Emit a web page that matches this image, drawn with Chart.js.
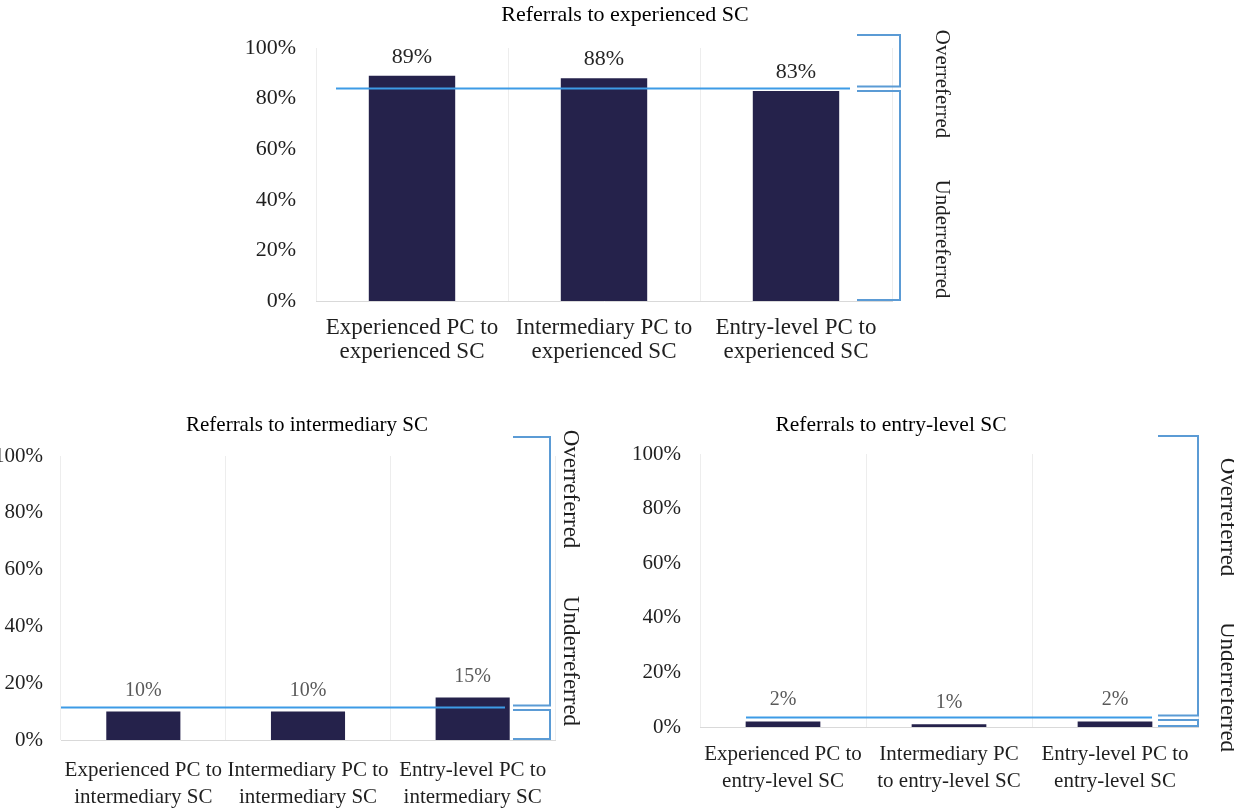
<!DOCTYPE html>
<html>
<head>
<meta charset="utf-8">
<title>Referrals by PC and SC experience level</title>
<script src="https://cdn.jsdelivr.net/npm/chart.js@4.4.1/dist/chart.umd.min.js"></script>
<style>
  html, body { margin: 0; padding: 0; background: #ffffff; }
  #page { position: relative; width: 1234px; height: 809px; overflow: hidden; background: #ffffff; }
  canvas { position: absolute; display: block; }
</style>
</head>
<body>
<div id="page">
  <canvas id="chartExperienced" width="740" height="370" style="left:230px;top:0px"></canvas>
  <canvas id="chartIntermediary" width="600" height="409" style="left:0px;top:400px"></canvas>
  <canvas id="chartEntry" width="634" height="409" style="left:600px;top:400px"></canvas>
</div>
<script>
// ---- data ----
const percentTicks = [0, 20, 40, 60, 80, 100];

const experiencedLabels = [
  ['Experienced PC to', 'experienced SC'],
  ['Intermediary PC to', 'experienced SC'],
  ['Entry-level PC to', 'experienced SC']
];
const experiencedValues = [89, 88, 83];
const experiencedExpected = 84;

const intermediaryLabels = [
  ['Experienced PC to', 'intermediary SC'],
  ['Intermediary PC to', 'intermediary SC'],
  ['Entry-level PC to', 'intermediary SC']
];
const intermediaryValues = [10, 10, 15];
const intermediaryExpected = 11.6;

const entryLabels = [
  ['Experienced PC to', 'entry-level SC'],
  ['Intermediary PC', 'to entry-level SC'],
  ['Entry-level PC to', 'entry-level SC']
];
const entryValues = [2, 1, 2];
const entryExpected = 3.6;

const panelTitles = ['Referrals to experienced SC', 'Referrals to intermediary SC', 'Referrals to entry-level SC'];
const sideLabels = ['Overreferred', 'Underreferred'];

// ---- styling ----
const SERIF = '"Liberation Serif", "Times New Roman", Times, serif';
const BAR_COLOR = '#25224b';
const LINE_BLUE = '#3d9be6';
const BRACKET_BLUE = '#5b9bd5';
const TEXT_DARK = '#1f1f1f';

// Value labels, expected-share line, over/under brackets and the panel title
function referralMarks(o) {
  return {
    id: 'referralMarks',
    afterDatasetsDraw(chart) {
      const ctx = chart.ctx;
      const area = chart.chartArea;
      const yScale = chart.scales.y;
      const meta = chart.getDatasetMeta(0);
      const values = chart.data.datasets[0].data;
      ctx.save();

      // value labels above the bars
      ctx.font = o.valueSize + 'px ' + SERIF;
      ctx.fillStyle = o.valueColor;
      ctx.textAlign = 'center';
      ctx.textBaseline = 'middle';
      meta.data.forEach((bar, i) => {
        ctx.fillText(values[i] + '%', bar.x, bar.y - o.valueGap);
      });

      // expected-share reference line
      const ey = Math.round(yScale.getPixelForValue(o.expected)) + 0.5;
      ctx.strokeStyle = LINE_BLUE;
      ctx.lineWidth = 2;
      ctx.beginPath();
      ctx.moveTo(area.left + o.lineFrom, ey);
      ctx.lineTo(area.right - o.lineTo, ey);
      ctx.stroke();

      // brackets for the over- and under-referred ranges
      const bx0 = area.right + o.bracketFrom;
      const bx1 = area.right + o.bracketTo;
      const top = area.top + o.bracketTop;
      const bottom = area.bottom - 1;
      ctx.strokeStyle = BRACKET_BLUE;
      ctx.lineWidth = 2;
      ctx.beginPath();
      ctx.moveTo(bx0, top);
      ctx.lineTo(bx1, top);
      ctx.lineTo(bx1, ey - 2);
      ctx.lineTo(bx0, ey - 2);
      ctx.moveTo(bx0, ey + 2.5);
      ctx.lineTo(bx1, ey + 2.5);
      ctx.lineTo(bx1, bottom);
      ctx.lineTo(bx0, bottom);
      ctx.stroke();

      // rotated range labels
      ctx.fillStyle = TEXT_DARK;
      ctx.font = o.sideSize + 'px ' + SERIF;
      ctx.textAlign = 'center';
      ctx.textBaseline = 'middle';
      [o.overY, o.underY].forEach((dy, i) => {
        ctx.save();
        ctx.translate(area.right + o.sideX, area.top + dy);
        ctx.rotate(Math.PI / 2);
        ctx.fillText(sideLabels[i], 0, 0);
        ctx.restore();
      });

      // panel title
      ctx.font = o.titleSize + 'px ' + SERIF;
      ctx.fillStyle = '#000000';
      ctx.fillText(o.title, o.titleX, o.titleY);

      ctx.restore();
    }
  };
}

function buildChart(id, labels, values, o) {
  const canvas = document.getElementById(id);
  return new Chart(canvas, {
    type: 'bar',
    data: {
      labels: labels,
      datasets: [{
        data: values,
        backgroundColor: BAR_COLOR,
        borderWidth: 0,
        barPercentage: 0.45,
        categoryPercentage: 1
      }]
    },
    options: {
      responsive: false,
      animation: false,
      events: [],
      layout: { padding: { top: o.padTop, right: o.padRight, left: 0, bottom: 0 }, autoPadding: false },
      plugins: { legend: { display: false }, tooltip: { enabled: false }, title: { display: false } },
      scales: {
        x: {
          grid: { display: true, color: '#ededed', lineWidth: 1, drawTicks: false, offset: true },
          border: { display: true, color: '#d9d9d9', width: 1 },
          ticks: {
            color: TEXT_DARK,
            padding: o.xPad,
            maxRotation: 0,
            autoSkip: false,
            font: { family: SERIF, size: o.catSize, lineHeight: o.catLine + 'px' }
          },
          afterFit(scale) { scale.height = o.xHeight; }
        },
        y: {
          min: 0,
          max: 100,
          grid: { display: false, drawTicks: false },
          border: { display: false },
          ticks: {
            color: TEXT_DARK,
            padding: o.yPad,
            font: { family: SERIF, size: o.tickSize },
            callback: (v) => v + '%'
          },
          afterBuildTicks(scale) { scale.ticks = percentTicks.map(v => ({ value: v })); },
          afterFit(scale) { scale.width = o.yWidth; }
        }
      }
    },
    plugins: [referralMarks(o)]
  });
}

buildChart('chartExperienced', experiencedLabels, experiencedValues, {
  title: panelTitles[0], titleX: 395, titleY: 15, titleSize: 22,
  expected: experiencedExpected,
  padTop: 48, padRight: 78, yWidth: 86, xHeight: 69,
  yPad: 20, tickSize: 22, xPad: 15, catSize: 23, catLine: 24,
  valueSize: 22, valueColor: '#262626', valueGap: 19,
  lineFrom: 20, lineTo: 42,
  bracketFrom: -35, bracketTo: 8, bracketTop: -13,
  sideX: 50, sideSize: 21, overY: 36, underY: 191
});

buildChart('chartIntermediary', intermediaryLabels, intermediaryValues, {
  title: panelTitles[1], titleX: 307, titleY: 25, titleSize: 21,
  expected: intermediaryExpected,
  padTop: 56, padRight: 45, yWidth: 61, xHeight: 69,
  yPad: 18, tickSize: 21, xPad: 17, catSize: 21, catLine: 27,
  valueSize: 20, valueColor: '#595959', valueGap: 21,
  lineFrom: 0, lineTo: 50,
  bracketFrom: -42, bracketTo: -5, bracketTop: -19,
  sideX: 15, sideSize: 23, overY: 33, underY: 205
});

buildChart('chartEntry', entryLabels, entryValues, {
  title: panelTitles[2], titleX: 291, titleY: 25, titleSize: 21.5,
  expected: entryExpected,
  padTop: 54, padRight: 36, yWidth: 100, xHeight: 82,
  yPad: 19, tickSize: 21, xPad: 14, catSize: 21, catLine: 27,
  valueSize: 20, valueColor: '#595959', valueGap: 22,
  lineFrom: 46, lineTo: 46,
  bracketFrom: -40, bracketTo: 0, bracketTop: -18,
  sideX: 29, sideSize: 23, overY: 63, underY: 233
});
</script>
</body>
</html>
